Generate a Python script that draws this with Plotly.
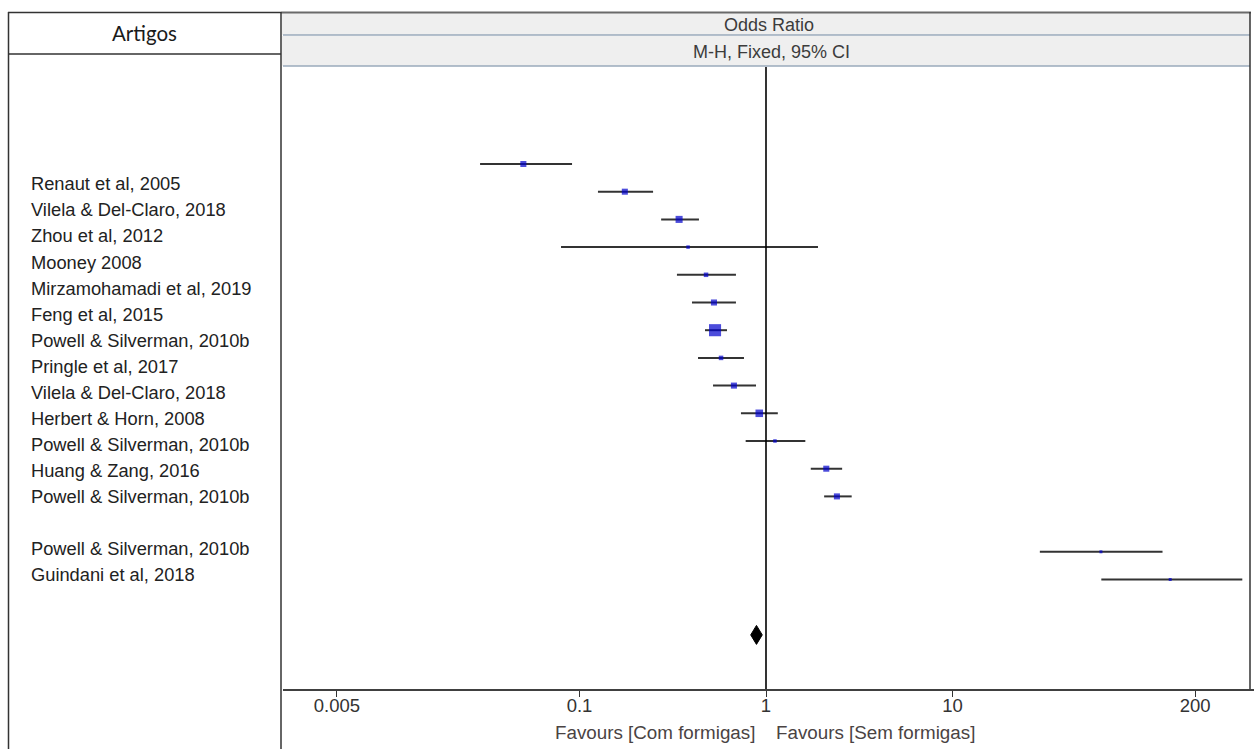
import numpy as np
import plotly.graph_objects as go

# ---------------- data ----------------
studies = [
    "Renaut et al, 2005",
    "Vilela & Del-Claro, 2018",
    "Zhou et al, 2012",
    "Mooney 2008",
    "Mirzamohamadi et al, 2019",
    "Feng et al, 2015",
    "Powell & Silverman, 2010b",
    "Pringle et al, 2017",
    "Vilela & Del-Claro, 2018",
    "Herbert & Horn, 2008",
    "Powell & Silverman, 2010b",
    "Huang & Zang, 2016",
    "Powell & Silverman, 2010b",
    "Powell & Silverman, 2010b",
    "Guindani et al, 2018",
]
group = [1, 1, 1, 1, 1, 1, 1, 1, 1, 1, 1, 1, 1, 2, 2]
odds_ratio = [0.050, 0.175, 0.342, 0.382, 0.477, 0.526, 0.533, 0.574, 0.673,
              0.920, 1.117, 2.105, 2.40, 62.5, 147.0]
ci_low = [0.0293, 0.1256, 0.274, 0.0796, 0.333, 0.401, 0.471, 0.432, 0.520,
          0.734, 0.778, 1.738, 2.05, 29.4, 62.8]
ci_high = [0.0912, 0.248, 0.437, 1.90, 0.690, 0.690, 0.618, 0.762, 0.884,
           1.157, 1.625, 2.56, 2.88, 133.7, 358.0]
weight_pct = [6.4, 6.4, 9.2, 1.6, 3.1, 6.4, 30.8, 3.1, 6.4, 10.7, 1.6, 6.4, 6.4, 1.0, 1.0]

pooled_or = 0.889
pooled_low = 0.828
pooled_high = 0.955

tick_values = [0.005, 0.1, 1, 10, 200]
tick_labels = ["0.005", "0.1", "1", "10", "200"]

header_left = "Artigos"
header_top = "Odds Ratio"
header_sub = "M-H, Fixed, 95% CI"
favours_left = "Favours [Com formigas]"
favours_right = "Favours [Sem formigas]"

# ---------------- layout helpers ----------------
W, H = 1254, 749
def px(x):
    return x / W
def py(y):
    return 1 - y / H

# row positions: a blank row between groups
pos = [i + (g - 1) for i, g in enumerate(group)]
pooled_pos = pos[-1] + 2

# plot area pixels
plot_top, plot_bottom = 67, 689
plot_left = 283
row0_px, row_step = 164, 27.7
lab0_px, lab_step = 184, 26.0
decade_px = 186.5
one_px = 766

y_range = [(plot_bottom - row0_px) / row_step, (plot_top - row0_px) / row_step]
y2_range = [(plot_bottom - lab0_px) / lab_step, (plot_top - lab0_px) / lab_step]
x_range = [(plot_left - one_px) / decade_px, (W - one_px) / decade_px]

fig = go.Figure()

# CI lines
xs, ys = [], []
for lo, hi, p in zip(ci_low, ci_high, pos):
    xs += [lo, hi, None]
    ys += [p, p, None]
fig.add_trace(go.Scatter(x=xs, y=ys, mode="lines",
                         line=dict(color="#333333", width=2),
                         hoverinfo="skip", showlegend=False))

# study estimates
fig.add_trace(go.Scatter(x=odds_ratio, y=pos, mode="markers",
                         marker=dict(symbol="square", color="#0000cc",
                                     size=[1.0 + 2.0 * np.sqrt(w) for w in weight_pct],
                                     line=dict(width=0)),
                         showlegend=False))

# pooled diamond
dh = 9.5 / row_step
fig.add_trace(go.Scatter(x=[pooled_low, pooled_or, pooled_high, pooled_or, pooled_low],
                         y=[pooled_pos, pooled_pos - dh, pooled_pos, pooled_pos + dh, pooled_pos],
                         mode="lines", fill="toself", fillcolor="black",
                         line=dict(color="black", width=1), showlegend=False))

# invisible trace to activate label axes
fig.add_trace(go.Scatter(x=[None], y=[None], xaxis="x2", yaxis="y2", showlegend=False))

label_font = dict(family="Liberation Sans, Arial, sans-serif", size=18.3, color="#222222")
head_font = dict(family="Liberation Sans, Arial, sans-serif", size=18, color="#3c3c3c")
fav_font = dict(family="Liberation Sans, Arial, sans-serif", size=18.8, color="#4a4343")

annotations = []
for i, name in enumerate(studies):
    annotations.append(dict(text=name, xref="paper", x=px(29), xanchor="left",
                            yref="y2", y=pos[i], yanchor="middle",
                            showarrow=False, font=label_font))

annotations += [
    dict(text=header_left, xref="paper", yref="paper", x=px(144.5), y=py(33),
         xanchor="center", yanchor="middle", showarrow=False,
         font=dict(family="Lato, Noto Sans, sans-serif", size=20.5, color="#1a1a1a")),
    dict(text=header_top, xref="paper", yref="paper", x=px(769), y=py(25),
         xanchor="center", yanchor="middle", showarrow=False, font=head_font),
    dict(text=header_sub, xref="paper", yref="paper", x=px(771), y=py(52),
         xanchor="center", yanchor="middle", showarrow=False, font=head_font),
    dict(text=favours_left, xref="x", x=np.log10(1), xshift=-9, xanchor="right",
         yref="paper", y=py(732), yanchor="middle", showarrow=False, font=fav_font),
    dict(text=favours_right, xref="x", x=np.log10(1), xshift=8, xanchor="left",
         yref="paper", y=py(732), yanchor="middle", showarrow=False, font=fav_font),
]

def hline(x0, x1, y, color, width):
    return dict(type="line", xref="paper", yref="paper", x0=px(x0), x1=px(x1),
                y0=py(y), y1=py(y), line=dict(color=color, width=width))
def vline(x, y0, y1, color, width):
    return dict(type="line", xref="paper", yref="paper", x0=px(x), x1=px(x),
                y0=py(y0), y1=py(y1), line=dict(color=color, width=width))

shapes = [
    # header backgrounds
    dict(type="rect", xref="paper", yref="paper", x0=px(282), x1=px(1250),
         y0=py(13), y1=py(35), fillcolor="#efefef", line=dict(width=0), layer="below"),
    dict(type="rect", xref="paper", yref="paper", x0=px(282), x1=px(1250),
         y0=py(36), y1=py(66), fillcolor="#efefef", line=dict(width=0), layer="below"),
    hline(283, 1250, 35, "#9aaabb", 1.5),
    hline(283, 1250, 66, "#9aaabb", 1.5),
    hline(281, 1251, 12.5, "#6a6a6a", 2),
    # left box
    hline(8, 281, 12.5, "#333333", 1.5),
    hline(8, 281, 54, "#333333", 1.5),
    vline(8.5, 12, 760, "#333333", 1.5),
    vline(281, 12, 760, "#333333", 1.5),
    # right border
    vline(1250, 12, 689, "#333333", 1.5),
    # line of no effect
    dict(type="line", xref="x", yref="paper", x0=1, x1=1,
         y0=py(plot_bottom), y1=py(plot_top), line=dict(color="black", width=1.6)),
]

fig.update_layout(
    width=W, height=H,
    margin=dict(l=0, r=0, t=0, b=0),
    paper_bgcolor="white", plot_bgcolor="rgba(0,0,0,0)",
    showlegend=False,
    xaxis=dict(domain=[px(plot_left), 1.0], type="log", range=x_range,
               tickvals=tick_values, ticktext=tick_labels,
               ticks="outside", ticklen=6, tickwidth=1, tickcolor="#333333",
               ticklabelstandoff=-7,
               showline=True, linecolor="#404040", linewidth=2,
               showgrid=False, zeroline=False,
               tickfont=dict(family="Liberation Sans, Arial, sans-serif", size=18.5, color="#333333"),
               anchor="y"),
    yaxis=dict(domain=[py(plot_bottom), py(plot_top)], range=y_range,
               visible=False, anchor="x"),
    xaxis2=dict(domain=[px(8), px(281)], range=[0, 1], visible=False, anchor="y2"),
    yaxis2=dict(domain=[py(plot_bottom), py(plot_top)], range=y2_range,
                visible=False, anchor="x2"),
    annotations=annotations,
    shapes=shapes,
)

fig.write_html("out.html", config={"displayModeBar": False},
               post_script="document.body.style.margin='0';document.body.style.overflow='hidden';")
